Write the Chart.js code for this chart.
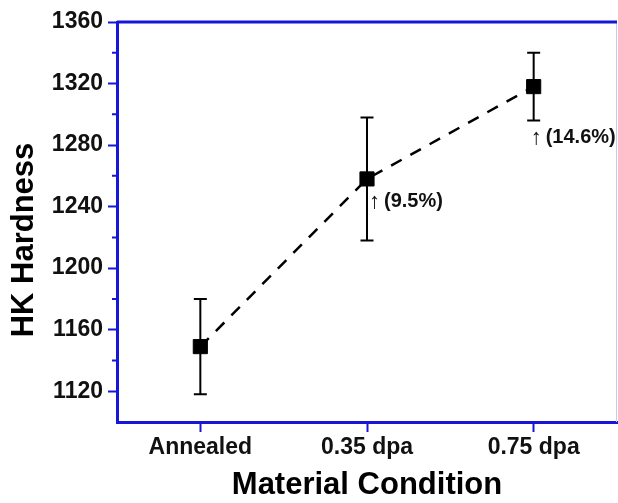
<!DOCTYPE html>
<html>
<head>
<meta charset="utf-8">
<script src="https://cdn.jsdelivr.net/npm/chart.js@4/dist/chart.umd.min.js"></script>
<style>
  html, body { margin: 0; padding: 0; background: #fff; }
  #wrap { width: 618px; height: 503px; }
</style>
</head>
<body>
<div id="wrap"><canvas id="hardnessChart" width="618" height="503"></canvas></div>
<script>
// values
const categories = ['Annealed', '0.35 dpa', '0.75 dpa'];
const hardness = [1149, 1258, 1318];
const hardnessErr = [31, 40, 22];
const increaseLabels = ['', '(9.5%)', '(14.6%)'];
const yTicks = [1120, 1160, 1200, 1240, 1280, 1320, 1360];
const yMinorTicks = [1140, 1180, 1220, 1260, 1300, 1340];

const AXIS_BLUE = '#1616d8';
const FONT = '"Liberation Sans", Arial, sans-serif';

/**
 * Error bars, minor ticks, frame and percent notes.
 */
const extrasPlugin = {
  id: 'extras',
  beforeDatasetsDraw(chart) {
    const { ctx, scales: { x, y } } = chart;
    ctx.save();
    ctx.strokeStyle = '#000';
    ctx.lineWidth = 2;
    hardness.forEach((v, i) => {
      const px = x.getPixelForValue(i);
      const top = y.getPixelForValue(v + hardnessErr[i]);
      const bot = y.getPixelForValue(v - hardnessErr[i]);
      ctx.beginPath();
      ctx.moveTo(px, top); ctx.lineTo(px, bot);
      ctx.moveTo(px - 6.5, top); ctx.lineTo(px + 6.5, top);
      ctx.moveTo(px - 6.5, bot); ctx.lineTo(px + 6.5, bot);
      ctx.stroke();
    });
    ctx.restore();
  },
  afterDraw(chart) {
    const { ctx, chartArea: area, scales: { x, y } } = chart;
    ctx.save();

    // frame: top and right
    ctx.strokeStyle = '#c9c9f2';
    ctx.lineWidth = 1;
    ctx.beginPath();
    ctx.moveTo(area.right - 0.5, area.top);
    ctx.lineTo(area.right - 0.5, area.bottom);
    ctx.stroke();
    ctx.strokeStyle = AXIS_BLUE;
    ctx.lineWidth = 3;
    ctx.beginPath();
    ctx.moveTo(area.left, area.top);
    ctx.lineTo(area.right, area.top);
    ctx.stroke();

    // minor ticks
    ctx.lineWidth = 2;
    ctx.beginPath();
    yMinorTicks.forEach(v => {
      const py = y.getPixelForValue(v);
      ctx.moveTo(area.left - 5, py);
      ctx.lineTo(area.left, py);
    });
    ctx.stroke();

    // percent increase notes
    const offsets = [null, { dx: 2, dy: 23 }, { dx: -3, dy: 51 }];
    ctx.fillStyle = '#111';
    ctx.textBaseline = 'middle';
    increaseLabels.forEach((txt, i) => {
      if (!txt) return;
      const px = x.getPixelForValue(i) + offsets[i].dx;
      const py = y.getPixelForValue(hardness[i]) + offsets[i].dy;
      ctx.font = '22px ' + FONT;
      ctx.fillText('\u2191', px, py);
      ctx.font = 'bold 20px ' + FONT;
      ctx.fillText(txt, px + 15, py);
    });

    // y axis title
    ctx.font = 'bold 31px ' + FONT;
    ctx.textAlign = 'center';
    ctx.textBaseline = 'middle';
    ctx.translate(24, 240);
    ctx.rotate(-Math.PI / 2);
    ctx.fillStyle = '#000';
    ctx.fillText('HK Hardness', 0, 0);
    ctx.restore();
  }
};

const ctx = document.getElementById('hardnessChart').getContext('2d');

new Chart(ctx, {
  type: 'line',
  data: {
    labels: categories,
    datasets: [{
      label: 'HK Hardness',
      data: hardness,
      borderColor: '#000',
      borderWidth: 2.5,
      borderDash: [12, 10],
      fill: false,
      tension: 0,
      pointStyle: 'rect',
      pointRadius: 10,
      pointBorderWidth: 1,
      pointBackgroundColor: '#000',
      pointBorderColor: '#000'
    }]
  },
  options: {
    responsive: false,
    animation: false,
    devicePixelRatio: 1,
    layout: {
      autoPadding: false,
      padding: { top: 22, right: 1, left: 0, bottom: 0 }
    },
    plugins: {
      legend: { display: false },
      tooltip: { enabled: false }
    },
    scales: {
      x: {
        type: 'category',
        offset: true,
        afterFit: scale => { scale.height = 81; },
        grid: {
          offset: false,
          drawOnChartArea: false,
          tickLength: 10,
          tickColor: AXIS_BLUE,
          tickWidth: 2
        },
        border: { display: true, color: AXIS_BLUE, width: 3 },
        ticks: {
          color: '#111',
          padding: 2,
          maxRotation: 0,
          font: { family: FONT, size: 23, weight: 'bold' }
        },
        title: {
          display: true,
          text: 'Material Condition',
          color: '#000',
          padding: 0,
          font: { family: FONT, size: 31, weight: 'bold', lineHeight: 1.1 }
        }
      },
      y: {
        min: 1100,
        max: 1360,
        afterFit: scale => { scale.width = 117; },
        afterBuildTicks: scale => {
          scale.ticks = yTicks.map(v => ({ value: v }));
        },
        grid: {
          drawOnChartArea: false,
          tickLength: 9,
          tickColor: AXIS_BLUE,
          tickWidth: 2
        },
        border: { display: true, color: AXIS_BLUE, width: 3 },
        ticks: {
          color: '#111',
          padding: 5,
          callback: v => String(v),
          font: { family: FONT, size: 23, weight: 'bold' }
        }
      }
    }
  },
  plugins: [extrasPlugin]
});
</script>
</body>
</html>
